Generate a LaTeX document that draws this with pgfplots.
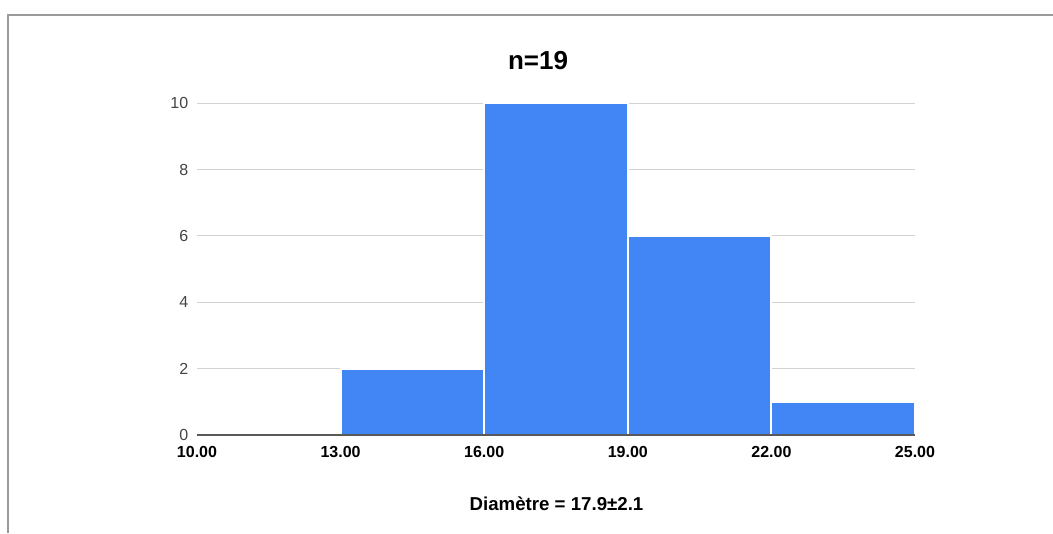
\documentclass[border=0pt]{standalone}
\usepackage{pgfplots}
\pgfplotsset{compat=1.18}
\usepackage{fontspec}
\setmainfont{Liberation Sans}
\definecolor{barblue}{HTML}{4285F4}
\definecolor{gridgray}{HTML}{D3D3D3}
\definecolor{framegray}{HTML}{9A9A9A}
\definecolor{ticktext}{HTML}{444444}
\begin{document}
\begin{tikzpicture}
\path[use as bounding box] (0pt,0pt) rectangle (789.75pt,399.75pt);
\draw[framegray, line width=1.5pt] (6pt,0pt) -- (6pt,388.5pt) -- (789.75pt,388.5pt);
\begin{axis}[
  at={(147.75pt,73.5pt)}, anchor=south west,
  scale only axis, width=538.5pt, height=248.8pt,
  xmin=10, xmax=25, ymin=0, ymax=10,
  xtick={10,13,16,19,22,25},
  ytick={0,2,4,6,8,10},
  ymajorgrids, grid style={gridgray, line width=0.75pt},
  axis line style={draw=none},
  major tick length=0pt,
  /pgf/number format/assume math mode=true,
  xticklabel style={font=\fontsize{12}{14}\selectfont\bfseries, yshift=-5pt},
  yticklabel style={font=\fontsize{12}{14}\selectfont, text=ticktext, xshift=-3pt},
  xticklabel={\pgfmathprintnumber[fixed, fixed zerofill, precision=2]{\tick}},
  clip=false,
]
\addplot[ybar interval, fill=barblue, draw=white, line width=1.5pt] coordinates {
  (13,2) (16,10) (19,6) (22,1) (25,1)
};
\draw[black!65, line width=1.1pt] (axis cs:10,0) -- (axis cs:25,0);
\end{axis}
\node[anchor=base, font=\fontsize{19.5}{22}\selectfont\bfseries] at (403.5pt,347.8pt) {n=19};
\node[anchor=base, font=\fontsize{14}{16}\selectfont\bfseries] at (417.4pt,17.25pt) {Diamètre = 17.9±2.1};
\end{tikzpicture}
\end{document}
